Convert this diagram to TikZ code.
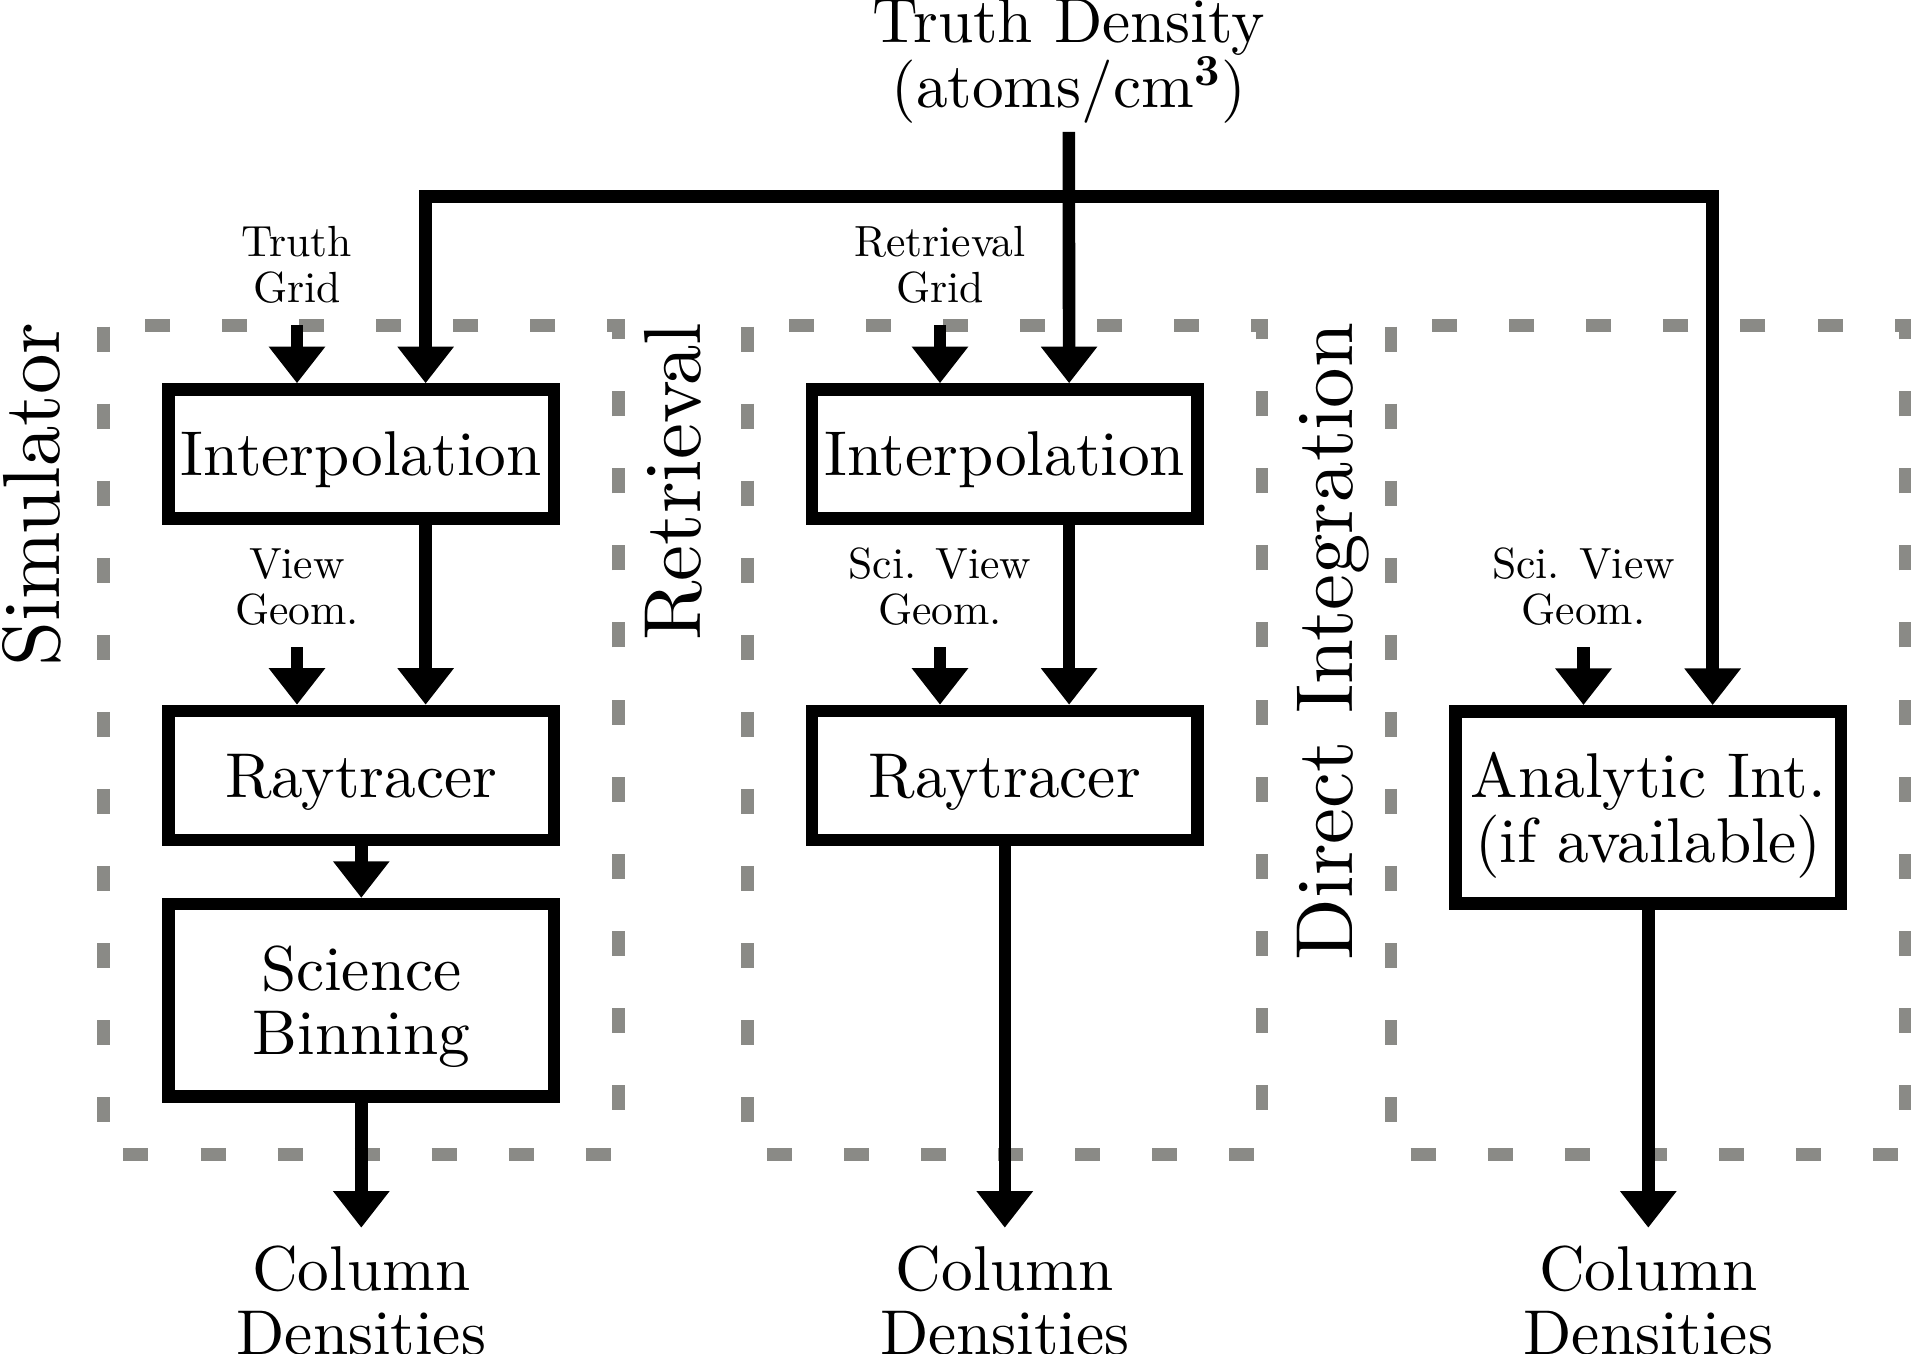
\documentclass[tikz,border=0pt]{standalone}
\usepackage{xcolor}
\usepackage{amsmath}
\usepackage{amssymb}
\usepackage{fontspec}
\setmainfont{lmroman10-regular.otf}[BoldFont=lmroman10-bold.otf]
\usepackage{tikz}
\usetikzlibrary{arrows.meta}
\definecolor{zonegray}{RGB}{138,138,134}

\begin{document}
\begin{tikzpicture}[x=0.01cm, y=-0.01cm, >={Triangle[width=15.4pt, length=10.4pt]},
	box/.style={draw, line width=3.58pt, minimum width=3.854cm, minimum height=1.287cm, inner sep=0pt, text depth=0pt, align=center, font=\fontsize{18}{18.3}\selectfont},
	tall/.style={box, minimum height=1.92cm},
	lbl/.style={align=center, inner sep=6pt, font=\fontsize{12.4}{13.1}\selectfont},
	result/.style={align=center, inner sep=4.9pt, font=\fontsize{18}{18.3}\selectfont},
	title/.style={rotate=90, inner sep=0pt, anchor=base east, font=\fontsize{23}{24}\selectfont},
	zone/.style={draw=zonegray, line width=3.58pt, dash pattern=on 7.11pt off 14.8pt, dash phase=21.5pt},
	arr/.style={line width=3.58pt, ->}]
\useasboundingbox (0,0) rectangle (1911,1354);
\draw[zone] (103.6,325.2) rectangle (618.3,1154.3);
\draw[zone] (747.2,325.2) rectangle (1261.9,1154.3);
\draw[zone] (1390.8,325.2) rectangle (1905.5,1154.3);
\node[title] (ls) at (59.3,322) {Simulator};
\node[title] (lr) at (700.5,322) {Retrieval};
\node[title] (ld) at (1352.4,322) {Direct Integration};
\node[result, anchor=south, inner sep=2.3pt] (t) at (1068.7,131.8) {Truth Density\\(atoms/cm$^{\mathbf{3}}$)};
\coordinate (hub) at (1068.7,196.5);
\node[box] (s1) at (361.3,453.9) {Interpolation};
\node[box] (s2) at (361.3,775.4) {Raytracer};
\node[tall] (s3) at (361.3,1000.2) {Science\\Binning};
\node[box] (r1) at (1004.8,453.9) {Interpolation};
\node[box] (r2) at (1004.8,775.4) {Raytracer};
\node[tall] (d1) at (1648.3,807.4) {Analytic Int.\\(if available)};
\node[lbl, anchor=south] (sg) at (297,325) {Truth\\Grid};
\node[lbl, anchor=south] (sv) at (297,647) {View\\Geom.};
\node[lbl, anchor=south] (rg) at (940,325) {Retrieval\\Grid};
\node[lbl, anchor=south] (rv) at (940,647) {Sci. View\\Geom.};
\node[lbl, anchor=south] (dv) at (1583.5,647) {Sci. View\\Geom.};
\node[result, anchor=north] (sc) at (361.3,1227.7) {Column\\Densities};
\node[result, anchor=north] (rc) at (1004.8,1227.7) {Column\\Densities};
\node[result, anchor=north] (dc) at (1648.3,1227.7) {Column\\Densities};
\draw[arr] (t) -- ([xshift=0.643cm]r1.north);
\draw[arr, <->] ([xshift=0.643cm]s1.north) |- (hub) -| ([xshift=0.643cm]d1.north);
\draw[arr] (sg) -- (sg |- s1.north);
\draw[arr] ([xshift=0.643cm]s1.south) -- ([xshift=0.643cm]s2.north);
\draw[arr] (sv) -- (sv |- s2.north);
\draw[arr] (s2) -- (s3);
\draw[arr] (s3) -- (sc);
\draw[arr] (rg) -- (rg |- r1.north);
\draw[arr] ([xshift=0.643cm]r1.south) -- ([xshift=0.643cm]r2.north);
\draw[arr] (rv) -- (rv |- r2.north);
\draw[arr] (r2) -- (rc);
\draw[arr] (dv) -- (dv |- d1.north);
\draw[arr] (d1) -- (dc);
\end{tikzpicture}
\end{document}
